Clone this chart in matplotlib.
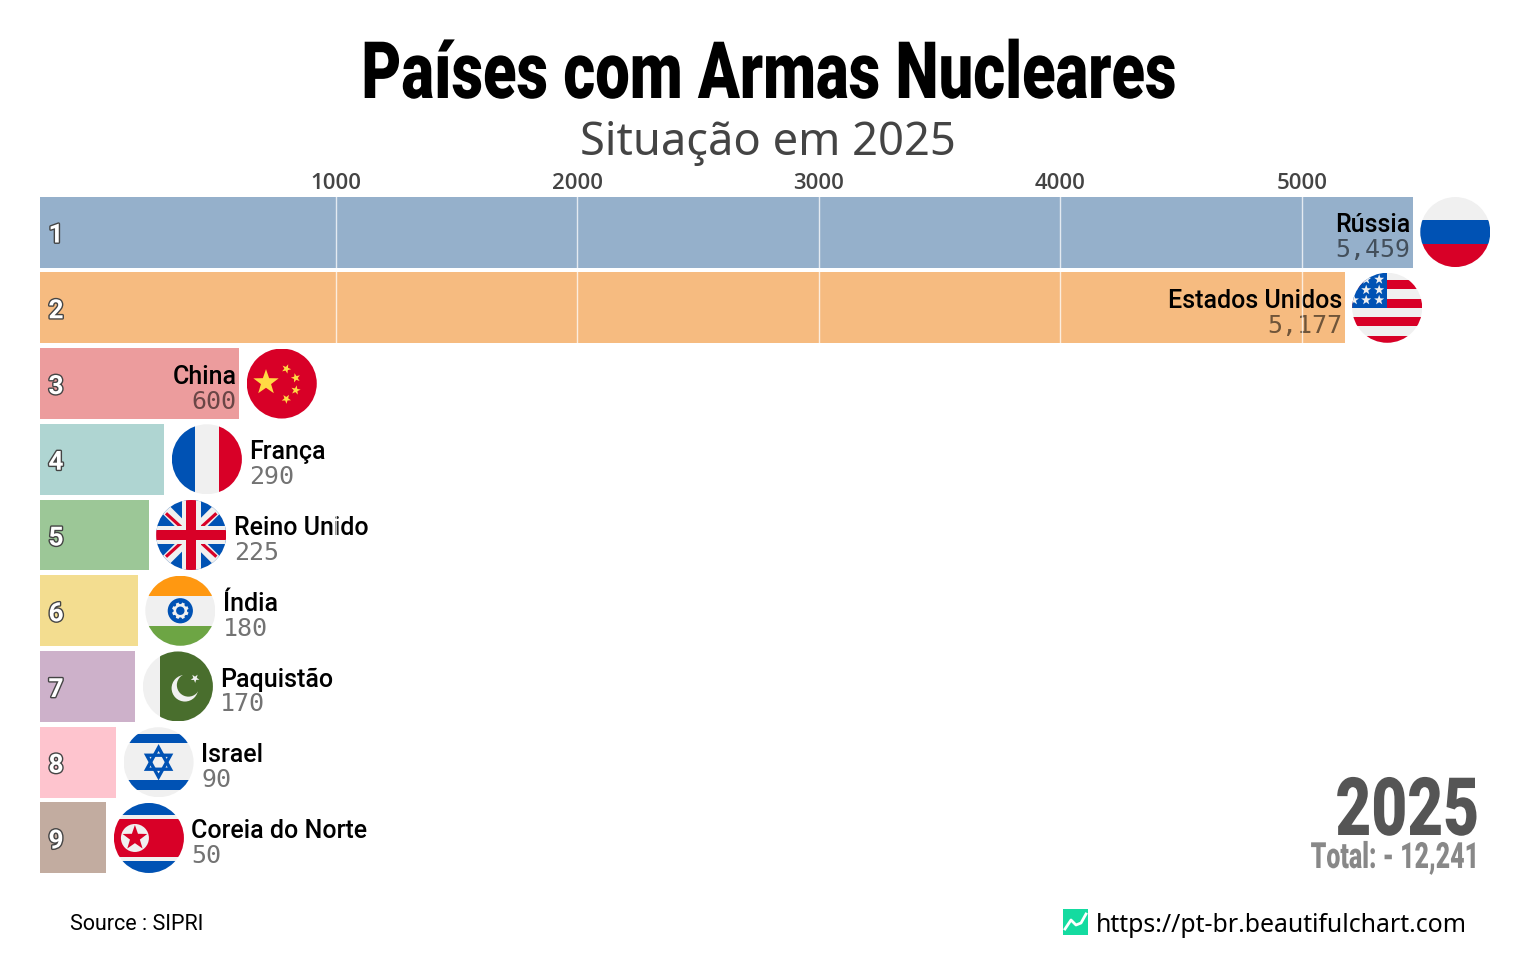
import numpy as np
import matplotlib as mpl
mpl.use('Agg')

import matplotlib.pyplot as plt
import matplotlib.patheffects as pe
from matplotlib.patches import Circle, Rectangle, Polygon
from matplotlib.transforms import Affine2D

W, H = 1536, 960

countries = ['Rússia', 'Estados Unidos', 'China', 'França', 'Reino Unido',
             'Índia', 'Paquistão', 'Israel', 'Coreia do Norte']
values = [5459, 5177, 600, 290, 225, 180, 170, 90, 50]
ranks = [1, 2, 3, 4, 5, 6, 7, 8, 9]
bar_colors = ['#95b0cb', '#f6bb80', '#ec9c9d', '#afd5d2', '#9cc797',
              '#f3dd90', '#cdb1ca', '#fec4ce', '#c2aca0']
xticks = [1000, 2000, 3000, 4000, 5000]

RED = '#d80027'
BLUE = '#0052b4'
WHITE = '#f0f0f0'
YELLOW = '#ffda44'
ORANGE = '#ff9811'
GREEN = '#6da544'
DKGREEN = '#496e2d'


class Squeeze(pe.AbstractPathEffect):
    """Narrows a text around x0 (pixels), no condensed face is installed"""

    def __init__(self, x0, sx):
        super().__init__()
        self.x0 = x0
        self.sx = sx

    def draw_path(self, renderer, gc, tpath, affine, rgbFace=None):
        squeezed = affine + Affine2D().translate(-self.x0, 0).scale(self.sx, 1).translate(self.x0, 0)
        renderer.draw_path(gc, tpath, squeezed, rgbFace)


def star_pts(cx, cy, r, n=5, inner=0.4, rot=0.0):
    ang = np.arange(2 * n) * np.pi / n - np.pi / 2 + rot
    rad = np.where(np.arange(2 * n) % 2 == 0, r, r * inner)
    return np.column_stack([cx + rad * np.cos(ang), cy + rad * np.sin(ang)])


def flag(fax, name, cx, cy, r):
    """Draws one round flag on the pixel axes, everything clipped to a circle"""
    clip = Circle((cx, cy), r, transform=fax.transData)
    parts = []

    def rect(x0, y0, x1, y1, c):
        # coordinates in units of the radius, y goes down
        parts.append(Rectangle((cx + x0 * r, cy + y0 * r), (x1 - x0) * r, (y1 - y0) * r,
                               fc=c, ec='none'))

    def circ(x, y, rad, c):
        parts.append(Circle((cx + x * r, cy + y * r), rad * r, fc=c, ec='none'))

    def star(x, y, rad, c, rot=0.0):
        parts.append(Polygon(star_pts(cx + x * r, cy + y * r, rad * r, rot=rot), fc=c, ec='none'))

    def diag(x0, y0, x1, y1, w, c):
        d = np.array([x1 - x0, y1 - y0], dtype=float)
        n = np.array([-d[1], d[0]]) / np.hypot(*d) * w / 2
        p = np.array([[x0, y0] + n, [x1, y1] + n, [x1, y1] - n, [x0, y0] - n])
        parts.append(Polygon(np.array([cx, cy]) + p * r, fc=c, ec='none'))

    rect(-1, -1, 1, 1, WHITE)
    if name == 'Rússia':
        rect(-1, -0.33, 1, 0.33, BLUE)
        rect(-1, 0.33, 1, 1, RED)
    elif name == 'Estados Unidos':
        for y0 in [-0.79, -0.26, 0.27, 0.80]:
            rect(-1, y0, 1, y0 + 0.26, RED)
        rect(-1, -1, 0, 0, BLUE)
        for y in [-0.81, -0.51, -0.22]:
            for x in [-0.6, -0.23]:
                star(x, y, 0.15, WHITE)
        star(-0.95, -0.22, 0.15, WHITE)
    elif name == 'China':
        rect(-1, -1, 1, 1, RED)
        star(-0.45, -0.03, 0.38, YELLOW)
        star(0.13, -0.42, 0.14, YELLOW, rot=0.4)
        star(0.40, -0.16, 0.14, YELLOW, rot=1.0)
        star(0.40, 0.19, 0.14, YELLOW, rot=0.2)
        star(0.13, 0.44, 0.14, YELLOW, rot=0.6)
    elif name == 'França':
        rect(-1, -1, -0.33, 1, BLUE)
        rect(0.35, -1, 1, 1, RED)
    elif name == 'Reino Unido':
        rect(-1, -1, 1, 1, BLUE)
        for s in [1, -1]:
            diag(-1, -s, 1, s, 0.3, WHITE)
        for x0, y0, x1, y1 in [(-0.72, -0.62, -0.26, -0.2), (0.26, -0.2, 0.72, -0.62),
                               (-0.72, 0.62, -0.26, 0.2), (0.26, 0.2, 0.72, 0.62)]:
            diag(x0, y0, x1, y1, 0.09, RED)
        rect(-1, -0.27, 1, 0.27, WHITE)
        rect(-0.27, -1, 0.27, 1, WHITE)
        rect(-1, -0.14, 1, 0.14, RED)
        rect(-0.14, -1, 0.14, 1, RED)
    elif name == 'Índia':
        rect(-1, -1, 1, -0.43, ORANGE)
        rect(-1, 0.43, 1, 1, GREEN)
        circ(0, 0, 0.36, BLUE)
        circ(0, 0, 0.24, WHITE)
        circ(0, 0, 0.12, BLUE)
        for a in np.arange(8) * np.pi / 4:
            circ(0.24 * np.cos(a), 0.24 * np.sin(a), 0.05, BLUE)
    elif name == 'Paquistão':
        rect(-0.5, -1, 1, 1, DKGREEN)
        circ(0.2, 0.05, 0.38, WHITE)
        circ(0.3, -0.04, 0.33, DKGREEN)
        star(0.49, -0.23, 0.13, WHITE, rot=0.6)
    elif name == 'Israel':
        rect(-1, -0.81, 1, -0.54, BLUE)
        rect(-1, 0.52, 1, 0.79, BLUE)
        for s in [1, -1]:
            tri = np.array([[0, -0.42 * s], [0.34, 0.2 * s], [-0.34, 0.2 * s]])
            parts.append(Polygon(np.array([cx, cy]) + tri * r, fc='none', ec=BLUE, lw=2.4))
    elif name == 'Coreia do Norte':
        rect(-1, -1, 1, -0.65, BLUE)
        rect(-1, 0.65, 1, 1, BLUE)
        rect(-1, -0.55, 1, 0.54, RED)
        circ(-0.4, 0, 0.4, WHITE)
        star(-0.4, 0, 0.37, RED)

    for p in parts:
        fax.add_patch(p)
        p.set_clip_path(clip)


fig = plt.figure(figsize=(W / 100, H / 100), dpi=100, facecolor='white')

# bars start left of zero, that is how the race chart lays them out
ax = fig.add_axes([40 / W, 1 - 873.5 / H, 1460 / W, 677 / H])
ax.set_xlim(-225, 5820)
ax.set_ylim(9.469, 0.531)
ax.patch.set_alpha(0)
ax.barh(ranks, [v + 225 for v in values], left=-225, height=0.937,
        color=bar_colors, zorder=1)

ax.set_yticks([])
ax.set_xticks(xticks)
ax.tick_params(axis='x', top=True, labeltop=True, bottom=False, labelbottom=False,
               length=0, pad=2, labelsize=16, labelcolor='#444444')
for lab in ax.get_xticklabels():
    lab.set_family('Open Sans')
    lab.set_fontweight('semibold')
ax.set_axisbelow(False)
ax.grid(axis='x', color='white', lw=1, alpha=0.75)
for s in ax.spines.values():
    s.set_visible(False)

# pixel axes for the flags and footer
fax = fig.add_axes([0, 0, 1, 1], zorder=5)
fax.set_xlim(0, W)
fax.set_ylim(H, 0)
fax.axis('off')

PX = 0.72  # offset points per pixel at dpi 100

for name, val, rank in zip(countries, values, ranks):
    ax.annotate(str(rank), xy=(-225, rank), xytext=(16 * PX, -3.5 * PX), textcoords='offset points',
                ha='center', va='center', fontsize=19, fontweight='bold', family='Roboto',
                color='white', zorder=2,
                path_effects=[pe.withStroke(linewidth=2, foreground='#444444')])

    if val >= 600:
        tx, ha = -2.5, 'right'
    else:
        tx, ha = 85, 'left'
    ax.annotate(name, xy=(val, rank), xytext=(tx * PX, 7 * PX), textcoords='offset points',
                ha=ha, va='center', fontsize=18, fontweight='medium', family='Roboto',
                color='black', zorder=2)
    ax.annotate(f'{val:,}', xy=(val, rank), xytext=(tx * PX, -18 * PX),
                textcoords='offset points', ha=ha, va='center', fontsize=18,
                family='DejaVu Sans Mono', color='black', alpha=0.55, zorder=2)

    # flag sits a fixed distance after the bar end
    xd, yd = ax.transData.transform((val, rank))
    fx, fy = fax.transData.inverted().transform((xd, yd))
    flag(fax, name, fx + 42.5, fy, 35)

fig.text(0.5, 1 - 76 / H, 'Países com Armas Nucleares', ha='center', va='center',
         fontsize=57, fontweight='black', family='Roboto', color='black',
         path_effects=[Squeeze(769, 0.776)])
fig.text(0.5, 1 - 143 / H, 'Situação em 2025', ha='center', va='center',
         fontsize=32.6, family='Noto Sans', color='#444444')

fig.text(1479 / W, 1 - 813 / H, '2025', ha='right', va='center',
         fontsize=58, fontweight='black', family='Roboto', color='#555555',
         path_effects=[Squeeze(1479, 0.77)])
fig.text(1479 / W, 1 - 858 / H, 'Total: - 12,241', ha='right', va='center',
         fontsize=26, fontweight='black', family='Roboto', color='#888888',
         path_effects=[Squeeze(1479, 0.69)])

fig.text(70 / W, 1 - 924 / H, 'Source : SIPRI', ha='left', va='center',
         fontsize=15.5, family='Roboto', color='black')
fig.text(1096 / W, 1 - 925 / H, 'https://pt-br.beautifulchart.com', ha='left', va='center',
         fontsize=17.9, family='Noto Sans', color='black')

# site logo
fax.add_patch(Rectangle((1063, 909), 25, 26, fc='#14dba0', ec='none'))
fax.plot([1065, 1071, 1076, 1081, 1086], [929, 920, 925, 923, 914], color='white', lw=2)

fig.savefig('out.png', dpi=100)
